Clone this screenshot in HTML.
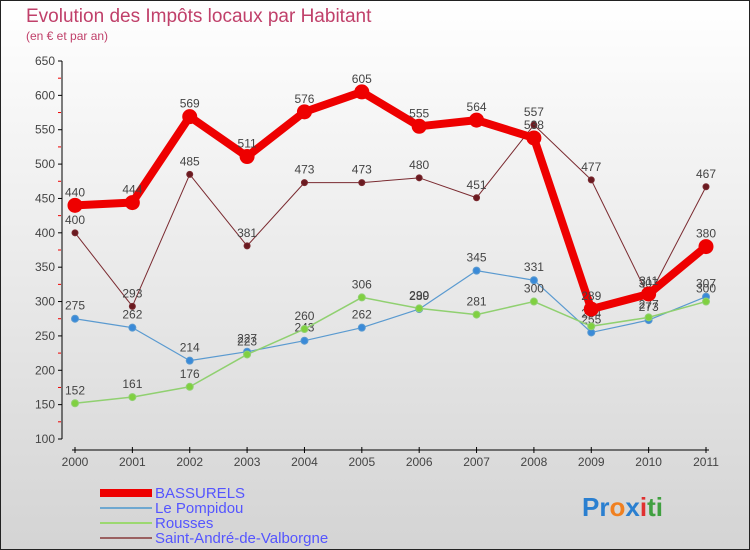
<!DOCTYPE html>
<html><head><meta charset="utf-8"><style>
body{margin:0;}
svg{display:block;font-family:"Liberation Sans",sans-serif;}
</style></head><body>
<svg id="c" width="750" height="550" viewBox="0 0 750 550">
<defs><linearGradient id="bg" x1="0" y1="0" x2="0" y2="1"><stop offset="0" stop-color="#ffffff"/><stop offset="1" stop-color="#d4d4d4"/></linearGradient></defs>
<rect x="0.5" y="0.5" width="749" height="549" fill="url(#bg)" stroke="#222"/>
<text x="26" y="22" font-size="19" fill="#c0406a">Evolution des Impôts locaux par Habitant</text>
<text x="26" y="40" font-size="12" fill="#c0406a">(en € et par an)</text>
<g id="axes"></g><g id="series"></g>
<g>
<rect x="100" y="489" width="52" height="8" fill="#e00"/>
<text x="155" y="498" font-size="15" fill="#5555ff">BASSURELS</text>
<line x1="100" y1="508" x2="152" y2="508" stroke="#6fa8d0" stroke-width="2"/>
<text x="155" y="513" font-size="15" fill="#5555ff">Le Pompidou</text>
<line x1="100" y1="523" x2="152" y2="523" stroke="#9cd870" stroke-width="2"/>
<text x="155" y="528" font-size="15" fill="#5555ff">Rousses</text>
<line x1="100" y1="538" x2="152" y2="538" stroke="#9a6060" stroke-width="2"/>
<text x="155" y="543" font-size="15" fill="#5555ff">Saint-André-de-Valborgne</text>
</g>
<text x="582" y="516" font-size="26" font-weight="bold"><tspan fill="#2a7fd0">Pr</tspan><tspan fill="#f08020">o</tspan><tspan fill="#2a7fd0">x</tspan><tspan fill="#e03030">i</tspan><tspan fill="#40a040">ti</tspan></text>
</svg>
<script>
const years=[2000,2001,2002,2003,2004,2005,2006,2007,2008,2009,2010,2011];
const yTicks=[100,150,200,250,300,350,400,450,500,550,600,650];
const bassurels=[440,444,569,511,576,605,555,564,538,289,311,380];
const pompidou=[275,262,214,227,243,262,289,345,331,255,273,307];
const rousses=[152,161,176,223,260,306,290,281,300,264,277,300];
const saintAndre=[400,293,485,381,473,473,480,451,557,477,307,467];
const NS="http://www.w3.org/2000/svg";
function xs(i){return 75+i*(706-75)/11;}
function ys(v){return 439-(v-100)*(439-61)/550;}
function mk(t,a,p){const e=document.createElementNS(NS,t);for(const k in a)e.setAttribute(k,a[k]);p.appendChild(e);return e;}
const ax=document.getElementById('axes');
let l=mk('line',{x1:62,y1:61,x2:62,y2:439,stroke:'#000'},ax);


yTicks.forEach((v,i)=>{
 mk('line',{x1:58,y1:ys(v),x2:62,y2:ys(v),stroke:'#000'},ax);
 if(i<yTicks.length-1)mk('line',{x1:58,y1:ys(v+25),x2:61,y2:ys(v+25),stroke:'#e00'},ax);
 const t=mk('text',{x:55,y:ys(v)+4,'font-size':12,fill:'#444','text-anchor':'end'},ax);t.textContent=v;
 
 
});
l=mk('line',{x1:72,y1:450,x2:709,y2:450,stroke:'#000'},ax);


years.forEach((y,i)=>{
 mk('line',{x1:xs(i),y1:447,x2:xs(i),y2:453,stroke:'#000'},ax);
 const t=mk('text',{x:xs(i),y:466,'font-size':12,fill:'#444','text-anchor':'middle'},ax);t.textContent=y;
 
 
});
const sg=document.getElementById('series');
function draw(vals,color,w,r,name,dot){
 const g=mk('g',{},sg);
 
 
 mk('polyline',{points:vals.map((v,i)=>xs(i)+','+ys(v)).join(' '),fill:'none',stroke:color,'stroke-width':w,'stroke-linejoin':'round'},g);
 vals.forEach((v,i)=>{
  const c=mk('circle',{cx:xs(i),cy:ys(v),r:r,fill:dot,stroke:color,'stroke-width':1},g);
  
  
  const t=mk('text',{x:xs(i),y:ys(v)-9,'font-size':12,fill:'#444','text-anchor':'middle'},g);t.textContent=v;
  
  
 });
}
draw(saintAndre,'#7a2a30',1,3,'series-saint-andre','#6a1a20');
draw(pompidou,'#5a9ad0',1.2,3.5,'series-pompidou','#3a8ad8');
draw(rousses,'#90d070',1.5,3.5,'series-rousses','#80d040');
draw(bassurels,'#ee0000',8,7,'series-bassurels','#ee0000');
</script>
</body></html>
